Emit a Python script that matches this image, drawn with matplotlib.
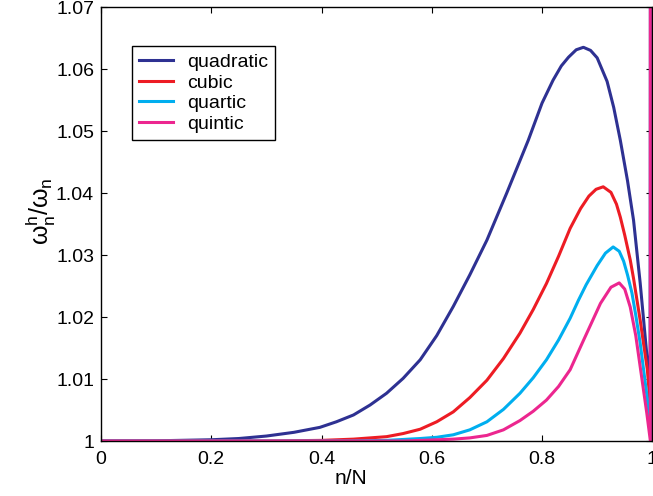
import matplotlib
matplotlib.use("Agg")
import matplotlib.pyplot as plt

plt.rcParams['font.family'] = ['Liberation Sans', 'DejaVu Sans']
plt.rcParams['mathtext.fontset'] = 'custom'
plt.rcParams['mathtext.rm'] = 'Liberation Sans'
plt.rcParams['mathtext.it'] = 'Liberation Sans'

# values (n/N, omega_h/omega)
quad_x = [0, 0.1, 0.2, 0.25, 0.3, 0.35, 0.397, 0.427, 0.458, 0.488, 0.518, 0.548,
          0.579, 0.609, 0.639, 0.669, 0.700, 0.736, 0.775, 0.80, 0.82, 0.835, 0.848,
          0.862, 0.875, 0.888, 0.9, 0.918, 0.93, 0.942, 0.955, 0.966, 0.978, 0.99,
          0.996, 1.0]
quad_y = [1.0, 1.00003, 1.0002, 1.0004, 1.0008, 1.0014, 1.0022, 1.0031, 1.0042, 1.0058,
          1.0077, 1.0101, 1.0131, 1.0170, 1.0217, 1.0268, 1.0324, 1.0400, 1.0485,
          1.0545, 1.0582, 1.0605, 1.0619, 1.0631, 1.0635, 1.0630, 1.0618, 1.058, 1.0538,
          1.0485, 1.042, 1.0356, 1.0255, 1.014, 1.0095, 1.5]

cub_x = [0, 0.3, 0.4, 0.458, 0.518, 0.548, 0.579, 0.609, 0.639, 0.669, 0.700, 0.730,
         0.760, 0.784, 0.808, 0.83, 0.851, 0.87, 0.885, 0.898, 0.911, 0.925, 0.935,
         0.942, 0.95, 0.96, 0.966, 0.978, 0.991, 0.997, 1.0]
cub_y = [1.0, 1.0, 1.0001, 1.0003, 1.0007, 1.0012, 1.0019, 1.0031, 1.0047, 1.0070,
         1.0098, 1.0133, 1.0174, 1.0212, 1.0254, 1.0298, 1.0343, 1.0375, 1.0395, 1.0406,
         1.041, 1.0401, 1.0382, 1.0361, 1.0332, 1.0292, 1.0262, 1.0195, 1.0115, 1.005,
         1.5]

quar_x = [0, 0.45, 0.518, 0.579, 0.609, 0.639, 0.669, 0.700, 0.730, 0.760, 0.784,
          0.808, 0.83, 0.851, 0.866, 0.88, 0.9, 0.915, 0.929, 0.94, 0.948, 0.955, 0.963,
          0.97, 0.978, 0.99, 0.998, 1.0, 1.0]
quar_y = [1.0, 1.0, 1.0001, 1.0004, 1.0006, 1.001, 1.0018, 1.0031, 1.0051, 1.0077,
          1.0102, 1.0131, 1.0163, 1.0198, 1.0227, 1.0252, 1.0283, 1.0303, 1.0313, 1.0306,
          1.0290, 1.0268, 1.0239, 1.0203, 1.0158, 1.0075, 1.001, 1.0, 1.5]

quin_x = [0, 0.55, 0.639, 0.669, 0.700, 0.730, 0.760, 0.784, 0.808, 0.83, 0.851, 0.875,
          0.906, 0.925, 0.94, 0.95, 0.96, 0.97, 0.978, 0.99, 0.9965, 0.9965]
quin_y = [1.0, 1.0, 1.0003, 1.0005, 1.0009, 1.0018, 1.0033, 1.0048, 1.0066, 1.0088,
          1.0115, 1.0162, 1.0222, 1.0248, 1.0255, 1.0245, 1.0216, 1.0170, 1.012, 1.0045,
          1.0, 1.5]

labels = ['quadratic', 'cubic', 'quartic', 'quintic']
colors = ['#2E3192', '#ED1C24', '#00AEEF', '#EC268F']

fig = plt.figure(figsize=(6.53, 4.96), dpi=100)
ax = fig.add_axes([101 / 653, 55 / 496, 551.3 / 653, 434 / 496])

series = [(quad_x, quad_y), (cub_x, cub_y), (quar_x, quar_y), (quin_x, quin_y)]
for (xs, ys), lab, col in zip(series, labels, colors):
    ax.plot(xs, ys, color=col, lw=2.2, label=lab, solid_joinstyle='round')

ax.set_xlim(0, 1)
ax.set_ylim(1, 1.07)
ax.set_xticks([0, 0.2, 0.4, 0.6, 0.8, 1])
ax.set_xticklabels(['0', '0.2', '0.4', '0.6', '0.8', '1'])
ax.set_yticks([1, 1.01, 1.02, 1.03, 1.04, 1.05, 1.06, 1.07])
ax.set_yticklabels(['1', '1.01', '1.02', '1.03', '1.04', '1.05', '1.06', '1.07'])
ax.tick_params(direction='in', top=True, right=True, length=4, width=0.8,
               labelsize=14)
ax.tick_params(axis='x', pad=7)
ax.tick_params(axis='y', pad=5)
for s in ax.spines.values():
    s.set_linewidth(1.0)

ax.set_xlabel('n/N', fontsize=15)
ax.xaxis.set_label_coords((351 - 101) / 551.3, -0.065)
ax.set_ylabel(r'$\mathregular{\omega^h_n/\omega_n}$', fontsize=18)
ax.yaxis.set_label_coords(-0.078, 0.53)

leg = ax.legend(loc='upper left', bbox_to_anchor=(0.056, 0.91), borderaxespad=0,
                fontsize=14, fancybox=False, framealpha=1, edgecolor='black',
                handlelength=1.75, handletextpad=0.7, labelspacing=0.15,
                borderpad=0.38)
leg.get_frame().set_linewidth(1.0)

fig.savefig('out.png', dpi=100)
